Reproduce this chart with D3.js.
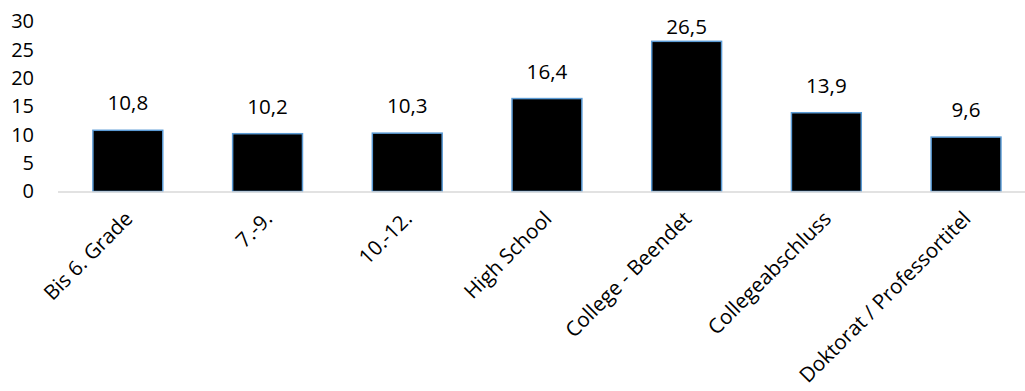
<!DOCTYPE html>
<html>
<head>
<meta charset="utf-8">
<script src="https://cdn.jsdelivr.net/npm/d3@7"></script>
<style>
  html, body { margin: 0; padding: 0; background: #fff; }
  svg text { font-family: "Open Sans", sans-serif; fill: #000; }
</style>
</head>
<body>
<svg id="chart" width="1025" height="391"></svg>
<script>
// Education level categories and their values
const categories = ["Bis 6. Grade", "7.-9.", "10.-12.", "High School", "College - Beendet", "Collegeabschluss", "Doktorat / Professortitel"];
const values = [10.8, 10.2, 10.3, 16.4, 26.5, 13.9, 9.6];
const yTicks = [0, 5, 10, 15, 20, 25, 30];

const svg = d3.select("#chart");
const tickFont = 20;
const labelFont = 20.6;

const x = d3.scaleBand()
  .domain(categories)
  .range([58, 58 + 7 * 139.7])
  .paddingInner(0.5)
  .paddingOuter(0.25);

const y = d3.scaleLinear()
  .domain([0, 30])
  .range([191.5, 21.5]);

// Y axis labels (no axis line, no ticks)
const yAxis = d3.axisLeft(y).tickValues(yTicks).tickSize(0).tickPadding(0).tickFormat(d3.format("d"));
const gy = svg.append("g").attr("transform", "translate(34,0)").call(yAxis);
gy.select(".domain").remove();
gy.selectAll("text")
  .attr("font-size", tickFont)
  .attr("font-family", "Open Sans, sans-serif")
  .attr("fill", "#000");

// Bars
svg.append("g").selectAll("rect")
  .data(values)
  .join("rect")
  .attr("x", (d, i) => x(categories[i]))
  .attr("y", d => y(d))
  .attr("width", x.bandwidth())
  .attr("height", d => y(0) - y(d))
  .attr("fill", "#000")
  .attr("stroke", "#5B9BD5")
  .attr("stroke-width", 1.5);

// Baseline
svg.append("line")
  .attr("x1", 58).attr("x2", 1025)
  .attr("y1", y(0) + 0.5).attr("y2", y(0) + 0.5)
  .attr("stroke", "#d9d9d9")
  .attr("stroke-width", 1.5);

// Value labels above bars
const fmt = v => d3.format(".1f")(v).replace(".", ",");
svg.append("g").selectAll("text")
  .data(values)
  .join("text")
  .attr("x", (d, i) => x(categories[i]) + x.bandwidth() / 2)
  .attr("y", d => Math.max(y(d) - 20, 33.5))
  .attr("text-anchor", "middle")
  .attr("font-size", labelFont)
  .text(fmt);

// Rotated category labels
svg.append("g").selectAll("text")
  .data(categories)
  .join("text")
  .attr("transform", d => `translate(${x(d) + x.bandwidth() / 2 + 6},220) rotate(-45)`)
  .attr("text-anchor", "end")
  .attr("font-size", labelFont)
  .text(d => d);
</script>
</body>
</html>
